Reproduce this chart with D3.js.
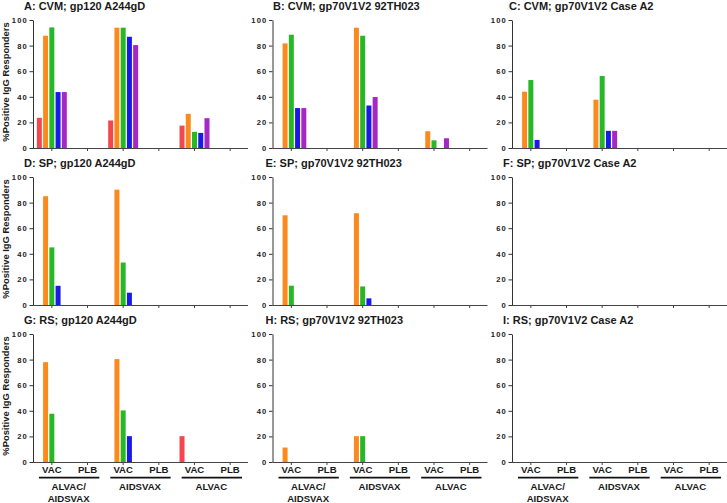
<!DOCTYPE html>
<html>
<head>
<meta charset="utf-8">
<script src="https://cdn.jsdelivr.net/npm/d3@7"></script>
<style>
  html, body { margin: 0; padding: 0; background: #fff; }
  svg { display: block; font-family: "Liberation Sans", Arial, Helvetica, sans-serif; }
</style>
</head>
<body>
<svg id="chart" width="727" height="503"></svg>
<script>
// ---------------- DATA ----------------
const panelTitles = [
  "A: CVM; gp120 A244gD", "B: CVM; gp70V1V2 92TH023", "C: CVM; gp70V1V2 Case A2",
  "D: SP; gp120 A244gD",  "E: SP; gp70V1V2 92TH023",  "F: SP; gp70V1V2 Case A2",
  "G: RS; gp120 A244gD",  "H: RS; gp70V1V2 92TH023",  "I: RS; gp70V1V2 Case A2"
];
const categories = ["VAC", "PLB", "VAC", "PLB", "VAC", "PLB"];
const groups = [["ALVAC/", "AIDSVAX"], ["AIDSVAX"], ["ALVAC"]];
const series = ["s1", "s2", "s3", "s4", "s5"];
const seriesColors = ["#f2474f", "#fb8a1e", "#27b827", "#1a1ae6", "#a527c6"];
const yTicks = [0, 20, 40, 60, 80, 100];
const yLabel = "%Positive IgG Responders";

// values per category (rows) x series (columns)
const valuesA = [[23.6, 87.7, 94.2, 43.7, 43.7], [0,0,0,0,0], [21.5, 94, 94, 86.9, 80.4], [0,0,0,0,0], [17.5, 26.7, 12.6, 11.8, 23.3], [0,0,0,0,0]];
const valuesB = [[0, 81.7, 88.5, 31.2, 31.2], [0,0,0,0,0], [0, 94, 87.7, 33.2, 39.8], [0,0,0,0,0], [0, 13.1, 6, 0, 7.6], [0,0,0,0,0]];
const valuesC = [[0, 44, 53.1, 6.3, 0], [0,0,0,0,0], [0, 37.7, 56.3, 13.4, 13.4], [0,0,0,0,0], [0,0,0,0,0], [0,0,0,0,0]];
const valuesD = [[0, 85, 45, 15, 0], [0,0,0,0,0], [0, 90.1, 33.2, 9.6, 0], [0,0,0,0,0], [0,0,0,0,0], [0,0,0,0,0]];
const valuesE = [[0, 70.1, 15.1, 0, 0], [0,0,0,0,0], [0, 71.7, 14.5, 5.2, 0], [0,0,0,0,0], [0,0,0,0,0], [0,0,0,0,0]];
const valuesF = [[0,0,0,0,0], [0,0,0,0,0], [0,0,0,0,0], [0,0,0,0,0], [0,0,0,0,0], [0,0,0,0,0]];
const valuesG = [[0, 78, 37.7, 0, 0], [0,0,0,0,0], [0, 80.4, 40.3, 20.2, 0], [0,0,0,0,0], [20.2, 0, 0, 0, 0], [0,0,0,0,0]];
const valuesH = [[0, 11.3, 0, 0, 0], [0,0,0,0,0], [0, 20.2, 20.2, 0, 0], [0,0,0,0,0], [0,0,0,0,0], [0,0,0,0,0]];
const valuesI = [[0,0,0,0,0], [0,0,0,0,0], [0,0,0,0,0], [0,0,0,0,0], [0,0,0,0,0], [0,0,0,0,0]];
const panelValues = [valuesA, valuesB, valuesC, valuesD, valuesE, valuesF, valuesG, valuesH, valuesI];

// ---------------- LAYOUT ----------------
const colX = [33, 272.5, 512];
const rowTop = [20, 177, 334];
const plotH = 128;
const plotW = 215;
const titleDx = [-9, 0.5, -3, -9, -7, -9, -9, -7, -9];
const font = "'Liberation Sans', Arial, Helvetica, sans-serif";

const svg = d3.select("#chart");

const y = d3.scaleLinear().domain([0, 100]).range([plotH, 0]);
const x = d3.scaleBand().domain(d3.range(categories.length)).range([1, plotW]).paddingInner(0).paddingOuter(0);
const xs = d3.scaleBand().domain(series).range([-15.6, 15.6]).paddingInner(0.2).paddingOuter(0.1);

panelTitles.forEach((title, p) => {
  const r = Math.floor(p / 3), c = p % 3;
  const g = svg.append("g").attr("transform", `translate(${colX[c]},${rowTop[r]})`);

  // title
  g.append("text")
    .attr("x", titleDx[p]).attr("y", -10.5)
    .attr("font-size", 11).attr("font-weight", "bold").attr("fill", "#1a1a1a")
    .text(title);

  // y axis label (first column only)
  if (c === 0) {
    svg.append("text")
      .attr("transform", `translate(8.8,${rowTop[r] + plotH / 2 - 2}) rotate(-90)`)
      .attr("text-anchor", "middle")
      .attr("font-size", 9.4).attr("font-weight", "bold").attr("fill", "#1a1a1a")
      .text(yLabel);
  }

  // bars
  const vals = panelValues[p];
  const cells = [];
  vals.forEach((row, ci) => row.forEach((v, si) => { if (v > 0) cells.push({ ci, si, v }); }));
  g.selectAll("rect.bar").data(cells).enter().append("rect")
    .attr("class", "bar")
    .attr("x", d => x(d.ci) + x.bandwidth() / 2 + xs(series[d.si]))
    .attr("width", xs.bandwidth())
    .attr("y", d => y(d.v))
    .attr("height", d => plotH - y(d.v))
    .attr("fill", d => seriesColors[d.si]);

  // y axis
  const ya = g.append("g")
    .call(d3.axisLeft(y).tickValues(yTicks).tickSize(3.5).tickSizeOuter(0).tickPadding(1.5));
  ya.select(".domain").attr("stroke", "#333").attr("stroke-width", 1);
  ya.selectAll(".tick line").attr("stroke", "#333");
  ya.selectAll(".tick text")
    .attr("font-family", font).attr("font-size", 7.6).attr("font-weight", "bold")
    .attr("letter-spacing", 1.2).attr("fill", "#222");

  // x axis
  const xa = g.append("g").attr("transform", `translate(0,${plotH})`)
    .call(d3.axisBottom(x).tickSize(3).tickSizeOuter(0).tickFormat(i => r === 2 ? categories[i] : ""));
  xa.select(".domain").remove();
  xa.append("line").attr("x1", 0).attr("x2", plotW).attr("y1", 0.5).attr("y2", 0.5)
    .attr("stroke", "#444").attr("stroke-width", 1);
  xa.selectAll(".tick line").attr("stroke", "#444");
  xa.selectAll(".tick text")
    .attr("font-family", font).attr("font-size", 9.6).attr("font-weight", "bold")
    .attr("fill", "#1a1a1a").attr("dy", 0).attr("y", 11);

  if (r === 2) {
    groups.forEach((lines, gi) => {
      const x0 = x(gi * 2), x1 = x(gi * 2 + 1) + x.bandwidth();
      xa.append("line")
        .attr("x1", x0 + 5).attr("x2", x1 - 6)
        .attr("y1", 15.7).attr("y2", 15.7)
        .attr("stroke", "#111").attr("stroke-width", 1.8);
      lines.forEach((ln, li) => {
        xa.append("text")
          .attr("x", (x0 + x1) / 2 - 1).attr("y", 28 + li * 11.5)
          .attr("text-anchor", "middle")
          .attr("font-family", font).attr("font-size", 9.6).attr("font-weight", "bold")
          .attr("fill", "#1a1a1a")
          .text(ln);
      });
    });
  }
});
</script>
</body>
</html>
